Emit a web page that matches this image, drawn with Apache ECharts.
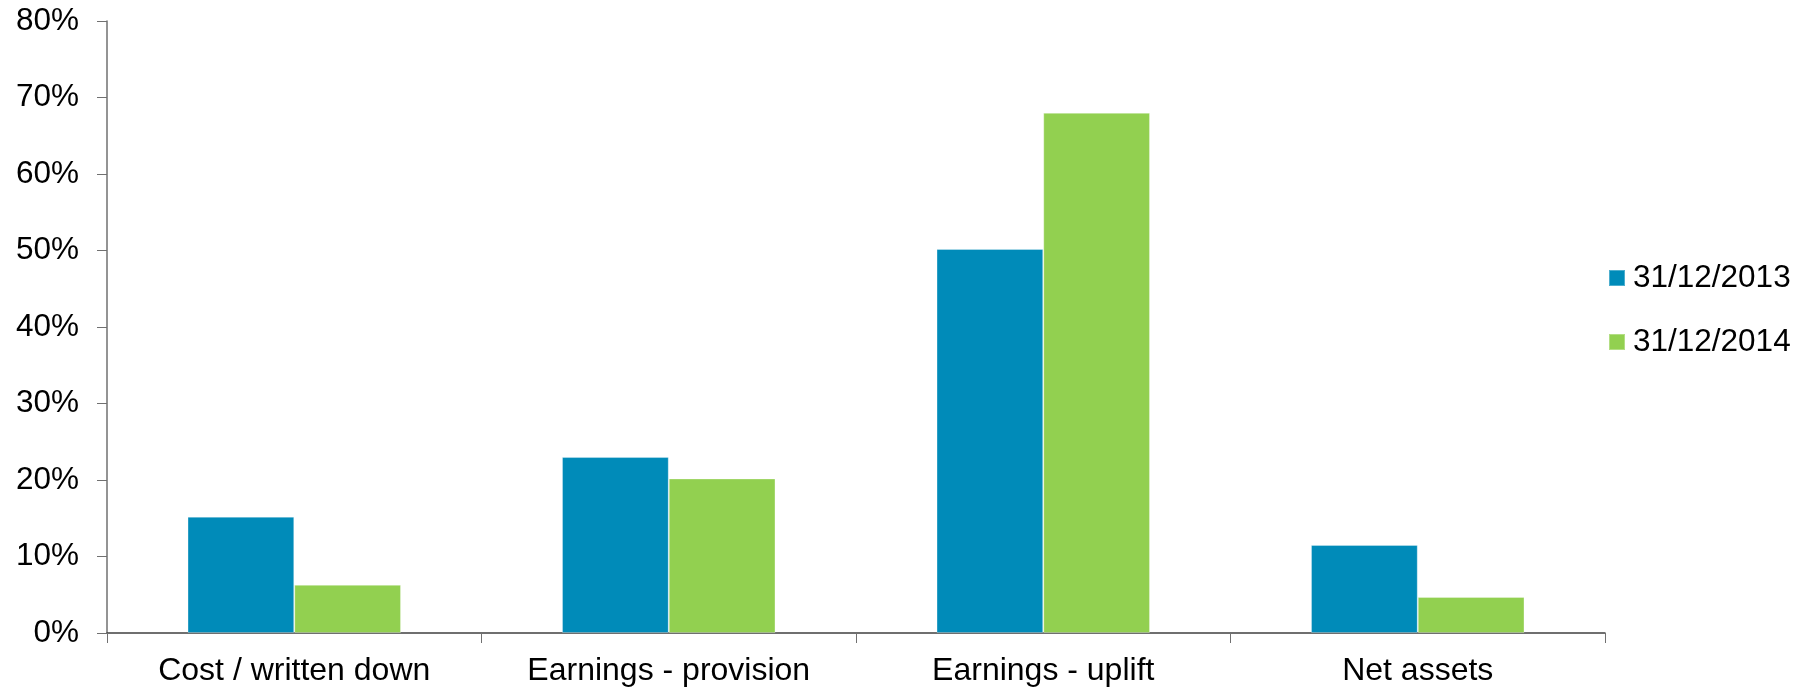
<!DOCTYPE html>
<html>
<head>
<meta charset="utf-8">
<script src="https://cdn.jsdelivr.net/npm/echarts@6/dist/echarts.min.js"></script>
<style>
  html, body { margin: 0; padding: 0; background: #fff; }
  #chart { width: 1801px; height: 693px; }
</style>
</head>
<body>
<div id="chart"></div>
<script>
// Valuation basis breakdown, share of portfolio (%)
const categories = ['Cost / written down', 'Earnings - provision', 'Earnings - uplift', 'Net assets'];
const seriesNames = ['31/12/2013', '31/12/2014'];
const values2013 = [15.2, 23.0, 50.2, 11.5];
const values2014 = [6.3, 20.2, 68.0, 4.7];
const seriesColors = ['#008BB9', '#92D050'];

const font = 'Arial, "Liberation Sans", sans-serif';
const chart = echarts.init(document.getElementById('chart'));

chart.setOption({
  animation: false,
  backgroundColor: '#ffffff',
  textStyle: { fontFamily: font },
  grid: { left: 107, right: 196, top: 21, bottom: 60, containLabel: false },
  legend: {
    orient: 'vertical',
    left: 1608,
    top: 262,
    padding: 0,
    itemWidth: 16,
    itemHeight: 16,
    itemGap: 32,
    icon: 'rect',
    textStyle: { fontSize: 31.5, color: '#000', fontFamily: font, lineHeight: 32, padding: [0, 0, 0, 3] },
    data: seriesNames
  },
  xAxis: {
    type: 'category',
    data: categories,
    axisLine: { lineStyle: { color: '#404040', width: 1.5 } },
    axisTick: { show: true, length: 10, inside: false, lineStyle: { color: '#707070' } },
    axisLabel: { fontSize: 32, color: '#000', margin: 22, fontFamily: font, interval: 0 }
  },
  yAxis: {
    type: 'value',
    min: 0,
    max: 80,
    interval: 10,
    splitLine: { show: false },
    axisLine: { show: true, lineStyle: { color: '#707070', width: 1.5 } },
    axisTick: { show: true, length: 10, lineStyle: { color: '#707070' } },
    axisLabel: { fontSize: 31.5, color: '#000', margin: 28, fontFamily: font, formatter: '{value}%' }
  },
  series: [
    {
      name: seriesNames[0],
      type: 'bar',
      data: values2013,
      barGap: '0%',
      barCategoryGap: '43%',
      itemStyle: { color: seriesColors[0], borderColor: 'rgba(255,255,255,0.3)', borderWidth: 1 }
    },
    {
      name: seriesNames[1],
      type: 'bar',
      data: values2014,
      barGap: '0%',
      barCategoryGap: '43%',
      itemStyle: { color: seriesColors[1], borderColor: 'rgba(255,255,255,0.3)', borderWidth: 1 }
    }
  ]
});
</script>
</body>
</html>
